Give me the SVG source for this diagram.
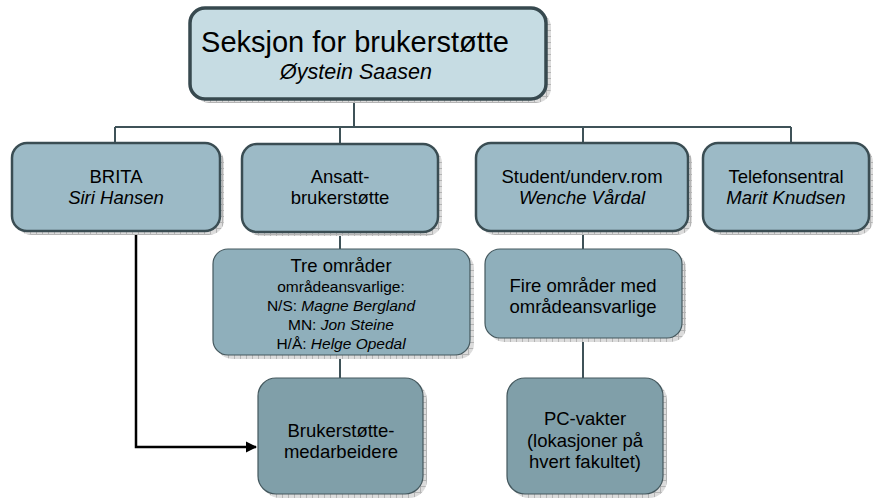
<svg xmlns="http://www.w3.org/2000/svg" width="874" height="500" viewBox="0 0 874 500">
  <defs>
    <pattern id="hatch" width="6" height="6" patternUnits="userSpaceOnUse">
      <rect width="6" height="6" fill="#dcdcdc"/>
      <path d="M0 0.5H6M0.5 0V6" stroke="#b4b4b4" stroke-width="1"/>
    </pattern>
    <marker id="arrow" viewBox="0 0 10 10" refX="9" refY="5" markerWidth="4.5" markerHeight="4.5" orient="auto">
      <path d="M0 0L10 5L0 10z" fill="#000"/>
    </marker>
  </defs>
  <style>
    .shadow { fill: url(#hatch); }
    .n0 { fill: #c6dce3; stroke: #37494f; stroke-width: 3.5; }
    .n1 { fill: #9cbac6; stroke: #3a4d53; stroke-width: 2.5; }
    .n2 { fill: #8fafbb; stroke: #44585e; stroke-width: 1.2; }
    .n3 { fill: #809fa9; stroke: #44585e; stroke-width: 1.2; }
    .link { fill: none; stroke: #3f5258; stroke-width: 2; }
    text { font-family: "Liberation Sans", Arial, sans-serif; fill: #000; text-anchor: middle; }
    .big { font-size: 29px; }
    .sub { font-size: 21.5px; }
    .md { font-size: 18.5px; }
    .sm { font-size: 15.5px; }
    .it { font-style: italic; }
  </style>

  <g id="connectors">
    <path class="link" d="M354 99V127" stroke-width="3"/>
    <path class="link" d="M115 127H791"/>
    <path class="link" d="M115 127V143M340 127V144M583 127V143M791 127V143"/>
    <path class="link" d="M340 232V249M340 355V378"/>
    <path class="link" d="M583 231V249M583 338V378"/>
    <path d="M136 231V447H256" fill="none" stroke="#000" stroke-width="2.5" marker-end="url(#arrow)"/>
  </g>

  <g id="seksjon">
    <rect class="shadow" x="194" y="12" width="357" height="91" rx="15"/>
    <rect class="n0" x="190" y="8" width="356" height="91" rx="15"/>
    <text class="big" x="355" y="52">Seksjon for brukerstøtte</text>
    <text class="sub it" x="356" y="79">Øystein Saasen</text>
  </g>

  <g id="brita">
    <rect class="shadow" x="16" y="147" width="208" height="88" rx="15"/>
    <rect class="n1" x="12" y="143" width="208" height="88" rx="15"/>
    <text class="md" x="116" y="183">BRITA</text>
    <text class="md it" x="116" y="204">Siri Hansen</text>
  </g>

  <g id="ansatt">
    <rect class="shadow" x="246" y="148" width="196" height="88" rx="15"/>
    <rect class="n1" x="242" y="144" width="196" height="88" rx="15"/>
    <text class="md" x="340" y="183">Ansatt-</text>
    <text class="md" x="340" y="204">brukerstøtte</text>
  </g>

  <g id="student">
    <rect class="shadow" x="480" y="147" width="212" height="88" rx="15"/>
    <rect class="n1" x="476" y="143" width="212" height="88" rx="15"/>
    <text class="md" x="582" y="183">Student/underv.rom</text>
    <text class="md it" x="582" y="204">Wenche Vårdal</text>
  </g>

  <g id="telefon">
    <rect class="shadow" x="707" y="147" width="166" height="88" rx="15"/>
    <rect class="n1" x="703" y="143" width="166" height="88" rx="15"/>
    <text class="md" x="786" y="183">Telefonsentral</text>
    <text class="md it" x="786" y="204">Marit Knudsen</text>
  </g>

  <g id="tre-omrader">
    <rect class="shadow" x="217" y="253" width="257" height="106" rx="15"/>
    <rect class="n2" x="213" y="249" width="257" height="106" rx="15"/>
    <text class="md" x="341" y="272">Tre områder</text>
    <text class="sm" x="341" y="292">områdeansvarlige:</text>
    <text class="sm" x="341" y="311">N/S: <tspan class="it">Magne Bergland</tspan></text>
    <text class="sm" x="341" y="330">MN: <tspan class="it">Jon Steine</tspan></text>
    <text class="sm" x="341" y="349">H/Å: <tspan class="it">Helge Opedal</tspan></text>
  </g>

  <g id="fire-omrader">
    <rect class="shadow" x="489" y="253" width="197" height="89" rx="15"/>
    <rect class="n2" x="485" y="249" width="197" height="89" rx="15"/>
    <text class="md" x="583" y="292">Fire områder med</text>
    <text class="md" x="583" y="313">områdeansvarlige</text>
  </g>

  <g id="medarbeidere">
    <rect class="shadow" x="262" y="382" width="165" height="116" rx="18"/>
    <rect class="n3" x="258" y="378" width="165" height="116" rx="18"/>
    <text class="md" x="341" y="437">Brukerstøtte-</text>
    <text class="md" x="341" y="458">medarbeidere</text>
  </g>

  <g id="pc-vakter">
    <rect class="shadow" x="511" y="382" width="156" height="116" rx="18"/>
    <rect class="n3" x="507" y="378" width="156" height="116" rx="18"/>
    <text class="md" x="585" y="425">PC-vakter</text>
    <text class="md" x="585" y="447">(lokasjoner på</text>
    <text class="md" x="585" y="468">hvert fakultet)</text>
  </g>
</svg>
